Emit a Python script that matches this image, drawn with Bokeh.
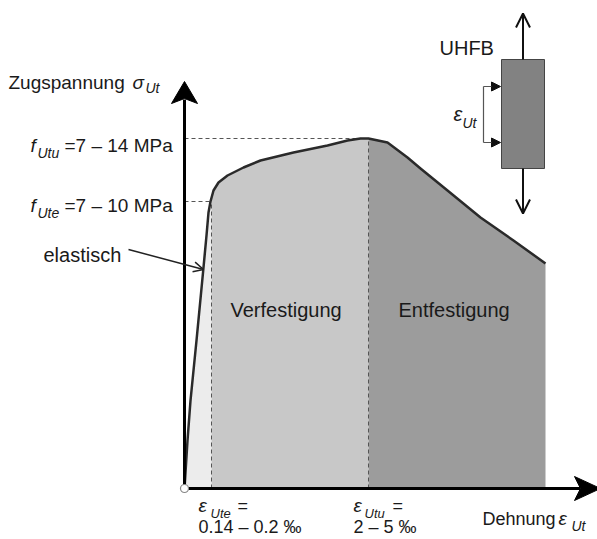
import numpy as np
from bokeh.plotting import figure
from bokeh.models import Range1d, ColumnDataSource, Arrow, OpenHead, NormalHead
from bokeh.core.properties import value
from bokeh.embed import file_html
from bokeh.resources import INLINE

# ---- schematic data (strain / stress, schematic units) ----
strain = [0, 3, 6, 12, 19, 22, 24, 26, 29, 34, 43, 59, 76, 109, 143, 163, 176, 184,
          203, 223, 236, 263, 296, 329, 361]
stress = [0, 48, 88, 148, 221, 253, 276, 287, 298, 306, 313, 321, 328, 336, 343, 348,
          350, 350, 346, 331, 320, 298, 271, 248, 225]
eps_ute = 27      # end of elastic range
eps_utu = 184     # strain at tensile strength
f_ute = 287       # elastic limit stress level
f_utu = 350       # tensile strength level
region_names = ["elastisch", "Verfestigung", "Entfestigung"]
region_colors = ["#ececec", "#c8c8c8", "#9c9c9c"]

FONT = value("Liberation Sans")

p = figure(width=597, height=539, x_range=Range1d(-184, 413), y_range=Range1d(-51, 488),
           output_backend="svg", toolbar_location=None, min_border=0,
           x_axis_location=None, y_axis_location=None)
p.grid.visible = False
p.outline_line_color = None
p.background_fill_color = "white"
p.border_fill_color = "white"

s_arr = np.array(strain, float)
t_arr = np.array(stress, float)


def region(a, b):
    xs = [a, a]
    ys = [0, float(np.interp(a, s_arr, t_arr))]
    for s, t in zip(strain, stress):
        if a < s < b:
            xs.append(s)
            ys.append(t)
    xs += [b, b]
    ys += [float(np.interp(b, s_arr, t_arr)), 0]
    return xs, ys


bounds = [0, eps_ute, eps_utu, strain[-1]]
for i in range(3):
    xs, ys = region(bounds[i], bounds[i + 1])
    p.patch(xs, ys, fill_color=region_colors[i], line_color=None)

# dashed guide lines
dash_col = "#555555"
p.segment(x0=[0, 0, eps_ute, eps_utu], y0=[f_utu, f_ute, 0, 0],
          x1=[eps_utu, eps_ute, eps_ute, eps_utu], y1=[f_utu, f_ute, f_ute, f_utu],
          line_color=dash_col, line_width=1, line_dash="4 3")

# curve
p.line(strain, stress, line_color="#2a2a2a", line_width=2.5, line_join="round")

# axes with arrowheads
y_tip = 407
x_tip = 416
p.segment(x0=[0, 0], y0=[0, 0], x1=[0, x_tip - 20], y1=[y_tip - 18, 0],
          line_color="black", line_width=3)
p.patch([0, -13, 0, 13], [y_tip, y_tip - 22, y_tip - 17, y_tip - 22], fill_color="black",
        line_color="black", line_width=1)
p.patch([x_tip, x_tip - 26, x_tip - 20, x_tip - 26], [0, 12, 0, -12], fill_color="black",
        line_color="black", line_width=1)
p.scatter([0], [0], size=8, fill_color="white", line_color="#888888", line_width=1.2)

# "elastisch" pointer
p.add_layout(Arrow(end=OpenHead(size=10, line_width=1.5, line_color="#222222"),
                   x_start=-56, y_start=239, x_end=19, y_end=219,
                   line_width=1.5, line_color="#222222"))

# UHFB specimen sketch
sx0, sx1, sy0, sy1 = 317, 360, 320, 429
sxc = (sx0 + sx1) / 2
p.quad(left=[sx0], right=[sx1], bottom=[sy0], top=[sy1], fill_color="#828282",
       line_color="#444444", line_width=1)
for y0, y1 in [(sy1, 475), (sy0, 275)]:
    p.add_layout(Arrow(end=OpenHead(size=14, line_width=2, line_color="#111111"),
                       x_start=sxc, y_start=y0, x_end=sxc, y_end=y1,
                       line_width=2, line_color="#111111"))
bx = 299
p.segment(x0=[bx], y0=[346], x1=[bx], y1=[402], line_color="#555555", line_width=1.2)
for yb in [346, 402]:
    p.add_layout(Arrow(end=NormalHead(size=9, fill_color="#111111", line_color="#111111"),
                       x_start=bx, y_start=yb, x_end=sx0 - 1, y_end=yb,
                       line_width=1.2, line_color="#555555"))


def txt(xs, ys, texts, size, style="normal", color="#1a1a1a"):
    src = ColumnDataSource(dict(x=xs, y=ys, t=texts))
    p.text(x="x", y="y", text="t", source=src, text_font=FONT,
           text_font_size=value(size), text_font_style=style,
           text_baseline="alphabetic", text_align="left", text_color=color)


# y-axis title
txt([-176], [406], ["Zugspannung"], "19px")
txt([-52], [406], ["σ"], "19px", "italic")
txt([-39], [401], ["Ut"], "14px", "italic")

# stress levels
txt([-154, -154], [f_utu - 7, f_ute - 4], ["f", "f"], "19px", "italic")
txt([-147, -147], [f_utu - 14, f_ute - 11], ["Utu", "Ute"], "14px", "italic")
txt([-120, -120], [f_utu - 7, f_ute - 4], ["=7 – 14 MPa", "=7 – 10 MPa"], "19px")

# region labels
txt([-141, 46, 214], [234, 179, 179], region_names, "20px")

# specimen labels
txt([255], [441], ["UHFB"], "20px")
txt([269], [375], ["ε"], "20px", "italic")
txt([278], [366], ["Ut"], "14px", "italic")

# strain levels
txt([eps_ute - 13, eps_utu - 15], [-17, -17], ["ε", "ε"], "19px", "italic")
txt([eps_ute - 1, eps_utu - 4], [-25, -25], ["Ute", "Utu"], "13px", "italic")
txt([eps_ute + 26, eps_utu + 24], [-17, -17], ["=", "="], "18px")
txt([eps_ute - 13, eps_utu - 15], [-38, -38], ["0.14 – 0.2 ‰", "2 – 5 ‰"], "18px")

# x-axis title
txt([298], [-30], ["Dehnung"], "18px")
txt([374], [-30], ["ε"], "19px", "italic")
txt([387], [-37], ["Ut"], "14px", "italic")

open("out.html", "w").write(file_html(p, INLINE))
